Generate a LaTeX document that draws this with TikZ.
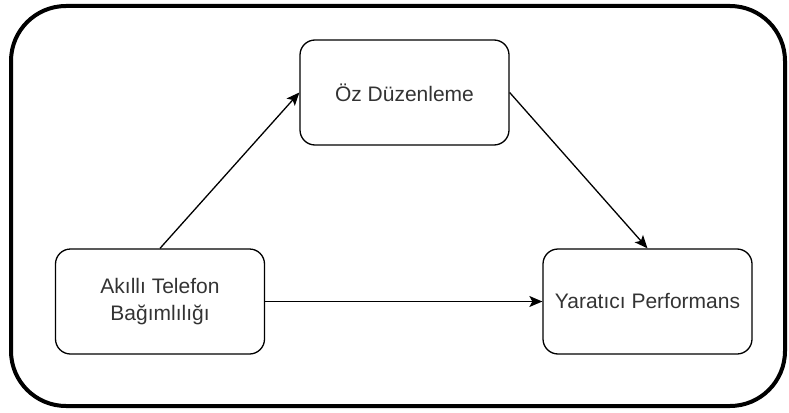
\documentclass[tikz,border=0pt]{standalone}
\usepackage{fontspec}
\setmainfont{Liberation Sans}
\usepackage{xcolor}
\usepackage{tikz}
\definecolor{boxline}{RGB}{0,0,0}
\definecolor{boxtext}{RGB}{51,51,51}
\usetikzlibrary{arrows.meta}

\tikzset{
  varbox/.style={draw=boxline, line width=1.3pt, rounded corners=15pt,
    minimum width=209pt, minimum height=105pt, inner sep=0pt,
    align=center, text=boxtext, font=\fontsize{21}{27}\selectfont},
  link/.style={draw=boxline, line width=1.3pt,
    -{Stealth[length=13pt,width=11pt,inset=3pt]}}
}

\begin{document}
\begin{tikzpicture}[x=1pt,y=-1pt]
    % Frame
    \useasboundingbox (0,0) rectangle (789,412);
    \draw[boxline, line width=4pt, rounded corners=55pt] (11,6) rectangle (785,406);
    % Variables
    \node[varbox] (oz) at (404.5,92.5) {Öz Düzenleme};
    \node[varbox] (akilli) at (160,301.5) {Akıllı Telefon\\Bağımlılığı};
    \node[varbox] (yaratici) at (647.5,301.5) {Yaratıcı Performans};
    % Paths
    \draw[link] (akilli.north) -- (oz.west);
    \draw[link] (oz.east) -- (yaratici.north);
    \draw[link] (akilli.east) -- (yaratici.west);
\end{tikzpicture}
\end{document}
